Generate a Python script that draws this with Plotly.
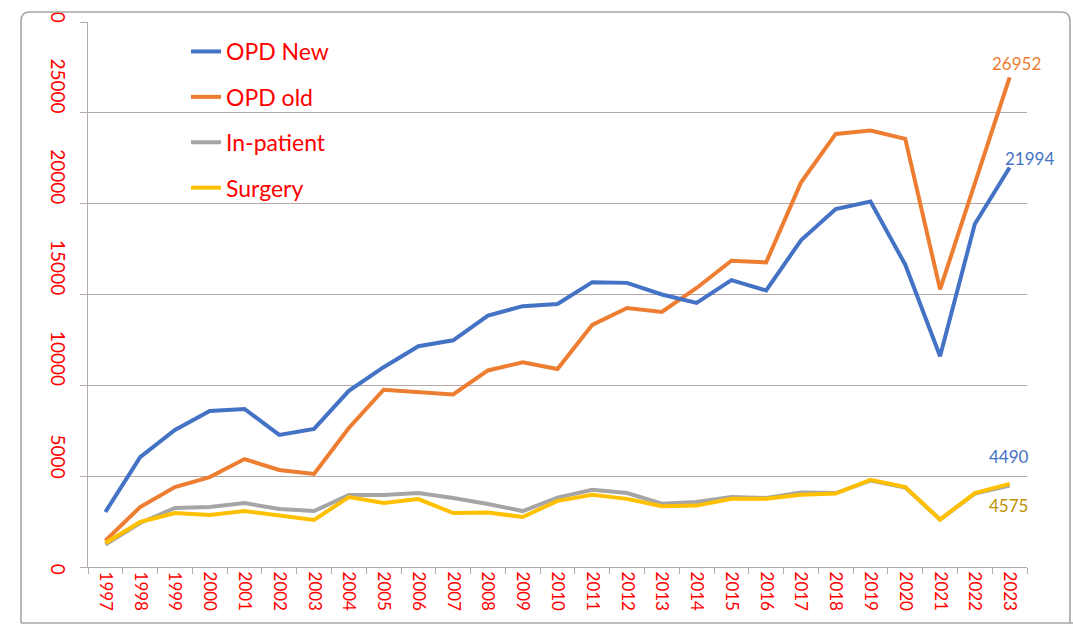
import plotly.graph_objects as go

years = [str(y) for y in range(1997, 2024)]

opd_new = [3030, 6050, 7540, 8590, 8700, 7270, 7600, 9700, 11000, 12150, 12480, 13840, 14360,
           14480, 15680, 15640, 15000, 14540, 15790, 15220, 17980, 19700, 20120, 16640, 11600,
           18880, 21994]
opd_old = [1450, 3300, 4400, 4950, 5940, 5340, 5120, 7650, 9760, 9650, 9500, 10820, 11270,
           10900, 13330, 14260, 14040, 15360, 16860, 16770, 21160, 23840, 24030, 23570, 15280,
           21120, 26952]
in_patient = [1230, 2420, 3250, 3300, 3520, 3190, 3080, 3960, 3960, 4070, 3800, 3470, 3080,
              3820, 4250, 4070, 3480, 3580, 3850, 3800, 4100, 4070, 4760, 4380, 2610,
              4040, 4490]
surgery = [1320, 2480, 2970, 2860, 3080, 2860, 2590, 3850, 3520, 3740, 2970, 3000, 2750,
           3640, 3980, 3750, 3340, 3380, 3760, 3760, 3980, 4040, 4800, 4400, 2610,
           4070, 4575]

series_names = ["OPD New", "OPD old", "In-patient", "Surgery"]
series_values = [opd_new, opd_old, in_patient, surgery]
series_colors = ["#4472C4", "#ED7D31", "#A5A5A5", "#FFC000"]

y_ticks = [0, 5000, 10000, 15000, 20000, 25000, 30000]

FONT = "Lato, 'Liberation Sans', sans-serif"
GRID = "#b3aaa8"

fig = go.Figure()
order = [1, 0, 2, 3]
for i in order:
    fig.add_trace(go.Scatter(
        x=years, y=series_values[i], mode="lines", name=series_names[i],
        line=dict(color=series_colors[i], width=4),
        legendgroup=series_names[i], legendrank=i,
    ))

last = len(years) - 1
# end-value labels
fig.add_annotation(x=last, y=opd_old[-1], text=str(opd_old[-1]), showarrow=False,
                   xshift=7, yshift=14, font=dict(color="#ED7D31", size=17, family=FONT))
fig.add_annotation(x=last, y=opd_new[-1], text=str(opd_new[-1]), showarrow=False,
                   xshift=20, yshift=9, font=dict(color="#4472C4", size=17, family=FONT))
fig.add_annotation(x=last, y=in_patient[-1], text=str(in_patient[-1]), showarrow=False,
                   xshift=-1, yshift=29, font=dict(color="#4472C4", size=17, family=FONT))
fig.add_annotation(x=last, y=surgery[-1], text=str(surgery[-1]), showarrow=False,
                   xshift=-1, yshift=-22, font=dict(color="#BF9000", size=17, family=FONT))

W, H = 1073, 631
L, R, T, B = 88, 46, 22, 64
pw, ph = W - L - R, H - T - B


def px(xp):
    return (xp - L) / pw


def py(yp):
    return (H - B - yp) / ph


# white cover above the outer frame's top edge (clips the top tick label like the reference)
fig.add_shape(type="rect", xref="paper", yref="paper", x0=px(0), x1=px(W), y0=py(11.5), y1=py(-20),
              fillcolor="white", line=dict(width=0), layer="above")

# rounded outer chart frame
x0, x1, y0, y1, r = 21, 1070, 12, 623, 9
path = (f"M {px(x0)},{py(y1)} L {px(x0)},{py(y0 + r)} Q {px(x0)},{py(y0)} {px(x0 + r)},{py(y0)} "
        f"L {px(x1 - r)},{py(y0)} Q {px(x1)},{py(y0)} {px(x1)},{py(y0 + r)} L {px(x1)},{py(y1)} "
        f"M {px(x0)},{py(y1)} L {px(W)},{py(y1)}")
fig.add_shape(type="path", xref="paper", yref="paper", path=path,
              line=dict(color="#a6a6a6", width=1.6), layer="above")

# rotated y labels end at their gridline: pad shorter labels at their start
y_ticktext = ["\u00a0" * (3 * (5 - len(str(v)))) + str(v) for v in y_ticks]

fig.update_layout(
    width=W, height=H,
    margin=dict(l=L, r=R, t=T, b=B, autoexpand=False),
    paper_bgcolor="white", plot_bgcolor="white",
    font=dict(family=FONT, color="#FF0000"),
    showlegend=True,
    legend=dict(
        x=px(186), y=py(30), xanchor="left", yanchor="top",
        font=dict(size=23, color="#FF0000", family=FONT),
        bgcolor="rgba(0,0,0,0)",
        traceorder="grouped", tracegroupgap=12.5,
    ),
    xaxis=dict(
        type="category", range=[-0.5, 26.5], tickson="boundaries",
        ticks="outside", ticklen=6, tickcolor=GRID,
        showline=True, linecolor=GRID, linewidth=1.3,
        showgrid=False, tickangle=90, automargin=False,
        tickfont=dict(size=17, color="#FF0000", family=FONT),
    ),
    yaxis=dict(
        range=[0, 30000], tickvals=y_ticks, ticktext=y_ticktext,
        showgrid=True, gridcolor=GRID, gridwidth=1.2,
        showline=True, linecolor=GRID, linewidth=1.3,
        ticks="outside", ticklen=7, tickcolor=GRID, automargin=False,
        tickangle=90, ticklabelshift=-24, ticklabelstandoff=6,
        ticklabeloverflow="allow",
        tickfont=dict(size=19, color="#FF0000", family=FONT),
        zeroline=False,
    ),
)

fig.write_html("out.html", config={"displayModeBar": False},
               post_script="document.body.style.margin='0';")
